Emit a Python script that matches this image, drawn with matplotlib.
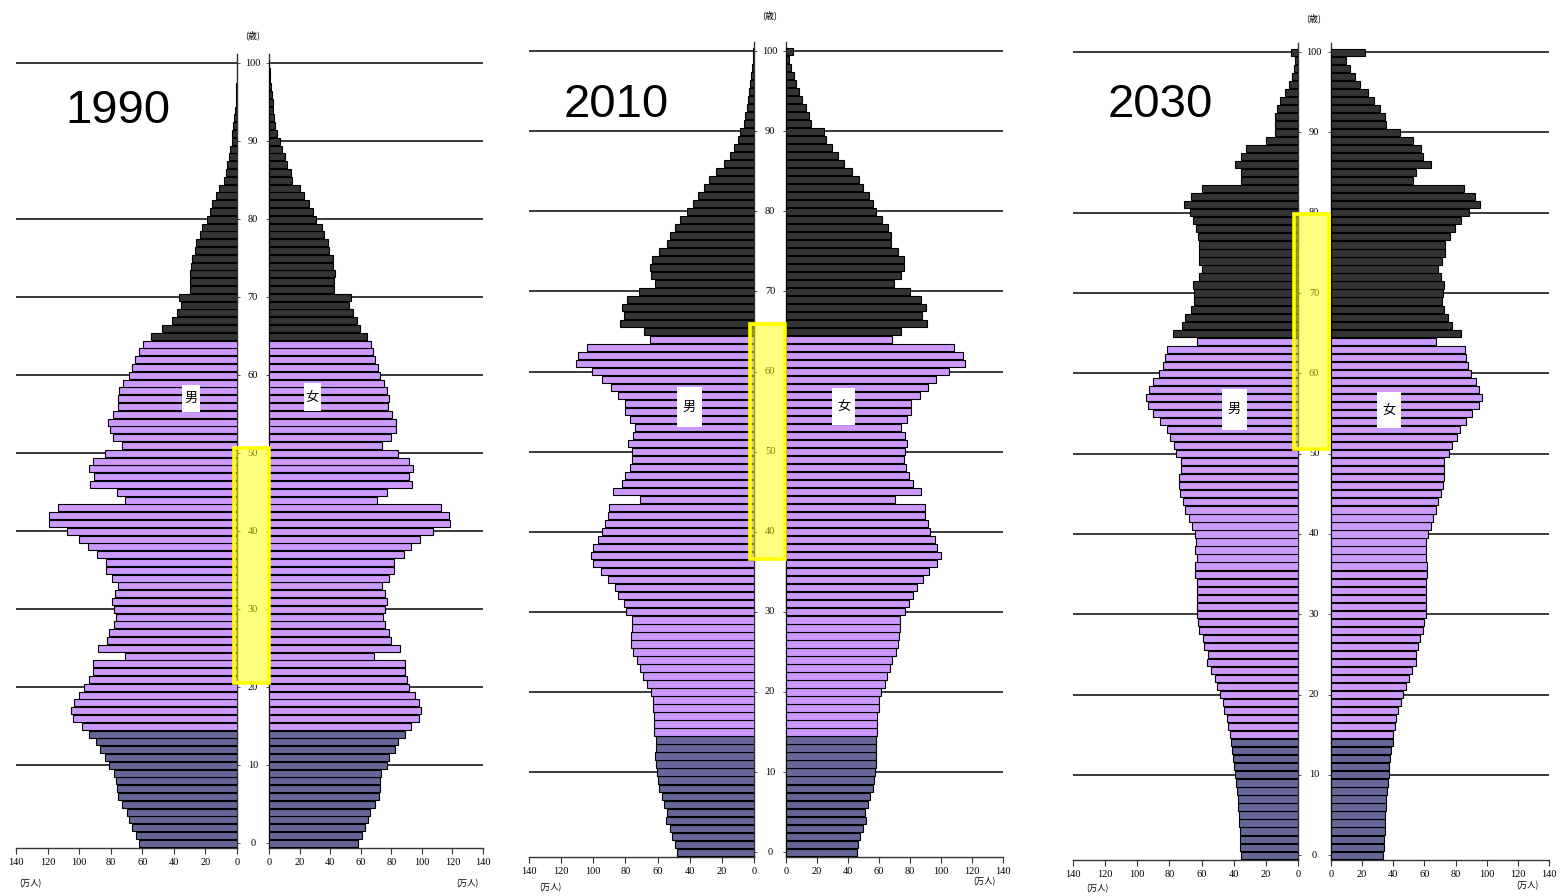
import matplotlib
matplotlib.use('Agg')
import matplotlib.pyplot as plt
from matplotlib.patches import Rectangle
from matplotlib.transforms import blended_transform_factory
import numpy as np

W, H = 1561, 896

# ---------------- data (万人, age 0..100) ----------------
ages = list(range(0, 101))
years = ['1990', '2010', '2030']

male_1990 = [61.8, 63.9, 66.2, 68.4, 70.0, 72.8, 75.7, 76.2, 76.8, 77.8,
             81.2, 83.5, 86.9, 89.2, 93.7, 98.1, 103.8, 104.9, 103.2, 100.0,
             97.0, 93.7, 91.1, 91.1, 70.7, 88.0, 82.3, 81.0, 77.8, 76.8,
             77.8, 79.5, 77.2, 75.5, 79.5, 83.3, 83.3, 88.6, 94.1, 100.4,
             108.0, 119.4, 119.4, 113.7, 71.1, 76.2, 93.0, 90.7, 93.7, 91.1,
             83.5, 72.6, 78.5, 80.6, 81.6, 78.3, 75.1, 75.7, 74.7, 72.2,
             68.4, 66.7, 64.6, 62.0, 59.5, 54.6, 47.7, 41.4, 38.2, 35.4,
             36.5, 30.0, 30.0, 30.0, 28.9, 28.5, 26.8, 25.7, 23.6, 21.9,
             19.2, 17.3, 15.8, 13.3, 11.2, 8.2, 7.0, 6.1, 5.3, 4.4,
             3.4, 3.0, 2.3, 1.7, 1.3, 0.9, 0.6, 0.4, 0.3, 0.2, 0.1]
female_1990 = [58.4, 60.6, 62.5, 64.7, 65.8, 69.5, 71.7, 72.3, 72.8, 73.4,
               76.9, 78.4, 82.4, 84.3, 88.7, 92.8, 98.0, 99.6, 98.0, 95.4,
               91.9, 90.2, 88.7, 88.7, 68.8, 85.4, 79.7, 78.2, 75.6, 74.5,
               75.6, 77.3, 75.6, 73.9, 78.2, 81.5, 81.5, 88.0, 93.0, 98.9,
               107.2, 118.1, 117.6, 112.2, 70.6, 77.1, 93.7, 91.5, 94.1, 91.9,
               84.5, 74.1, 79.9, 82.8, 83.2, 80.2, 77.8, 78.6, 77.3, 75.2,
               72.3, 71.2, 69.5, 68.0, 66.7, 63.9, 59.3, 57.5, 54.9, 52.3,
               53.4, 42.3, 42.5, 42.9, 41.8, 41.6, 39.0, 38.6, 36.2, 34.4,
               30.9, 28.5, 26.4, 22.9, 20.5, 15.3, 14.6, 11.8, 10.2, 8.7,
               7.0, 5.2, 4.1, 3.5, 2.8, 2.4, 1.7, 1.2, 0.8, 0.5, 0.3]

male_2010 = [47.9, 49.2, 50.8, 52.3, 54.6, 54.1, 56.0, 57.3, 58.9, 60.0,
             60.4, 60.8, 61.8, 61.2, 61.2, 62.2, 62.2, 62.0, 62.7, 62.7,
             64.3, 66.8, 68.9, 71.0, 73.0, 75.5, 76.6, 76.6, 75.7, 76.1,
             79.7, 81.1, 84.4, 86.3, 90.7, 95.0, 100.0, 101.2, 100.2, 97.1,
             94.4, 92.5, 91.1, 90.2, 70.7, 87.6, 82.2, 80.1, 77.2, 76.1,
             76.1, 78.2, 75.5, 73.9, 77.2, 80.1, 80.1, 84.6, 89.0, 94.4,
             101.0, 110.6, 109.3, 103.7, 64.5, 68.3, 83.2, 80.9, 82.2, 79.0,
             71.4, 61.4, 64.1, 64.5, 63.3, 59.3, 53.9, 52.5, 49.2, 46.1,
             41.5, 38.2, 34.9, 31.1, 28.0, 23.7, 18.9, 14.9, 12.4, 10.2,
             8.9, 6.2, 5.4, 4.4, 3.5, 2.9, 2.3, 1.9, 1.0, 0.6, 0.6]
female_2010 = [45.8, 46.2, 48.0, 49.9, 51.8, 51.2, 52.9, 54.4, 55.9, 56.8,
               57.6, 57.8, 58.3, 58.3, 58.3, 58.7, 58.7, 58.5, 59.8, 60.2,
               61.3, 63.7, 65.4, 67.3, 68.6, 71.0, 72.5, 73.1, 73.3, 73.8,
               77.0, 79.1, 82.2, 84.7, 88.6, 92.5, 97.6, 100.2, 97.6, 95.9,
               93.1, 91.4, 89.9, 89.9, 70.5, 87.3, 81.7, 79.6, 77.4, 76.3,
               76.6, 78.1, 76.6, 74.4, 78.1, 80.9, 80.9, 86.7, 91.6, 97.0,
               104.9, 115.7, 114.2, 108.4, 68.4, 74.4, 90.8, 87.7, 90.3, 87.1,
               80.0, 69.5, 74.4, 75.9, 76.1, 72.3, 68.0, 68.0, 65.8, 62.2,
               58.3, 56.1, 53.3, 49.9, 46.9, 42.6, 37.2, 33.5, 29.7, 25.8,
               24.3, 16.3, 14.6, 12.7, 10.3, 8.6, 6.7, 4.9, 3.4, 1.7, 4.3]

male_2030 = [35.4, 36.0, 36.2, 36.4, 36.6, 36.9, 37.1, 37.5, 37.9, 38.5,
             39.1, 39.8, 40.4, 41.0, 41.6, 42.2, 43.3, 43.9, 45.8, 46.6,
             48.4, 50.1, 51.8, 54.0, 56.7, 56.3, 58.2, 59.4, 61.5, 62.1,
             63.1, 62.7, 63.1, 63.1, 62.7, 63.8, 64.0, 62.7, 63.8, 63.6,
             64.4, 66.0, 68.1, 70.2, 71.4, 73.7, 74.3, 74.3, 72.7, 73.1,
             76.0, 77.0, 79.7, 81.8, 85.9, 90.1, 93.6, 94.6, 92.5, 90.1,
             86.7, 84.3, 82.6, 81.6, 63.1, 77.6, 72.3, 70.2, 66.7, 64.8,
             64.8, 65.2, 61.7, 59.8, 61.5, 61.7, 61.7, 62.3, 63.6, 65.4,
             67.3, 71.2, 66.7, 60.0, 35.2, 35.2, 39.3, 35.2, 32.5, 20.0,
             14.1, 14.1, 14.1, 13.3, 11.2, 8.3, 5.6, 3.9, 2.7, 1.9, 4.3]
female_2030 = [33.5, 34.0, 34.2, 34.4, 34.6, 34.8, 35.0, 35.5, 35.9, 36.3,
               37.0, 37.4, 38.0, 38.7, 39.5, 40.0, 40.8, 41.7, 43.2, 44.9,
               46.4, 48.3, 50.2, 51.7, 54.5, 54.3, 56.0, 57.3, 59.0, 59.6,
               60.7, 60.7, 61.1, 61.1, 60.9, 61.8, 61.8, 60.9, 61.3, 61.3,
               62.6, 64.3, 65.8, 67.3, 68.8, 70.9, 72.0, 72.6, 72.6, 72.6,
               75.9, 77.6, 80.8, 82.7, 86.5, 90.8, 95.1, 97.2, 95.1, 92.9,
               90.2, 88.2, 86.8, 86.1, 67.3, 83.8, 77.6, 75.4, 72.6, 71.6,
               72.2, 72.6, 70.5, 68.4, 71.6, 73.3, 73.1, 76.5, 79.9, 83.8,
               88.7, 95.5, 92.5, 85.7, 52.4, 54.5, 64.1, 59.2, 58.1, 52.4,
               44.4, 35.3, 34.6, 31.6, 27.8, 23.5, 18.8, 15.4, 12.4, 9.6, 22.0]

x_ticks = [0, 20, 40, 60, 80, 100, 120, 140]
age_ticks = [0, 10, 20, 30, 40, 50, 60, 70, 80, 90, 100]
unit_label = '(万人)'
age_label = '(歳)'
male_label = '男'
female_label = '女'

# ---------------- style / layout ----------------
C_CHILD = '#666699'
C_WORK = '#CC99FF'
C_OLD = '#333333'
GRID = '#3a3a3a'
CJK = ['Noto Sans CJK JP', 'DejaVu Sans']
NUMF = 'Liberation Serif'

fig = plt.figure(figsize=(W / 100, H / 100), dpi=100)


def fx(px):
    return px / W


def fy(py):
    return 1 - py / H


def bar_colors():
    return [C_CHILD if a < 15 else (C_WORK if a < 65 else C_OLD) for a in ages]


YLO, YHI = -0.6, 101.2

panels = [
    dict(year=years[0], male=male_1990, female=female_1990,
         lx=(16, 237), rx=(269, 483), bottom=848, ppy=7.8, mid=253,
         grid_l=[10, 20, 30, 40, 50, 60, 70, 80, 100], grid_r=age_ticks[1:],
         title_xy=(118, 111), age_lab_y=35,
         unit_l=(30, 884), unit_r=(467, 884),
         mbox=(182, 385, 200, 412), fbox=(304, 383, 321, 411),
         yel=(234, 448, 269, 683)),
    dict(year=years[1], male=male_2010, female=female_2010,
         lx=(529, 754), rx=(786, 1003), bottom=857, ppy=8.01, mid=770,
         grid_l=age_ticks[1:], grid_r=age_ticks[1:],
         title_xy=(616, 105), age_lab_y=15,
         unit_l=(550, 888), unit_r=(984, 882),
         mbox=(677, 387, 702, 427), fbox=(832, 388, 855, 425),
         yel=(750, 324, 785, 559)),
    dict(year=years[2], male=male_2030, female=female_2030,
         lx=(1073, 1298), rx=(1331, 1549), bottom=860, ppy=8.03, mid=1314,
         grid_l=[10, 20, 30, 40, 50, 60, 70, 80, 100], grid_r=age_ticks[1:],
         title_xy=(1160, 105), age_lab_y=18,
         unit_l=(1097, 889), unit_r=(1527, 886),
         mbox=(1222, 389, 1247, 430), fbox=(1377, 392, 1401, 428),
         yel=(1294, 214, 1329, 449)),
]

for p in panels:
    bot = p['bottom']
    top = bot - (YHI - YLO) * p['ppy']
    axes = []
    for side in ('L', 'R'):
        x0, x1 = p['lx'] if side == 'L' else p['rx']
        ax = fig.add_axes([fx(x0), fy(bot), (x1 - x0) / W, (bot - top) / H])
        vals = p['male'] if side == 'L' else p['female']
        ax.barh(ages, vals, height=0.9, color=bar_colors(),
                edgecolor='black', linewidth=0.8, zorder=3)
        grid_ages = p['grid_l'] if side == 'L' else p['grid_r']
        for g in grid_ages:
            ax.axhline(g, color=GRID, lw=1.4, zorder=1)
        ax.set_ylim(YLO, YHI)
        ax.set_xlim((140, 0) if side == 'L' else (0, 140))
        ax.set_xticks(x_ticks)
        ax.set_xticklabels([str(t) for t in x_ticks], fontsize=7.5,
                           family=NUMF)
        ax.tick_params(axis='x', direction='out', length=4, width=0.8,
                       pad=3, color='#333333')
        ax.set_yticks(age_ticks)
        ax.set_yticklabels([])
        ax.tick_params(axis='y', direction='out', length=2, width=0.6,
                       color='#333333')
        ax.spines['top'].set_visible(False)
        for sp in ('bottom', 'left', 'right'):
            ax.spines[sp].set_color('#333333')
            ax.spines[sp].set_linewidth(1.0)
        if side == 'L':
            ax.spines['left'].set_visible(False)
            ax.yaxis.tick_right()
        else:
            ax.spines['right'].set_visible(False)
            ax.yaxis.tick_left()
        ax.patch.set_alpha(0)
        axes.append(ax)

    axL = axes[0]
    # age labels in middle column
    tr = blended_transform_factory(fig.transFigure, axL.transData)
    for a in age_ticks:
        fig.text(fx(p['mid']), a, str(a), transform=tr, ha='center',
                 va='center', fontsize=7.5, family=NUMF, zorder=3)
    fig.text(fx(p['mid']), fy(p['age_lab_y']), age_label, ha='center',
             va='center', fontsize=6.5, family=CJK)

    # unit labels
    for (ux, uy) in (p['unit_l'], p['unit_r']):
        fig.text(fx(ux), fy(uy), unit_label, ha='center', va='center',
                 fontsize=6, family=CJK)

    # year title
    fig.text(fx(p['title_xy'][0]), fy(p['title_xy'][1]), p['year'],
             ha='center', va='center', fontsize=34, family='Liberation Sans')

    # 男 / 女 labels in white boxes
    for box, lab in ((p['mbox'], male_label), (p['fbox'], female_label)):
        bx0, by0, bx1, by1 = box
        fig.add_artist(Rectangle((fx(bx0), fy(by1)), (bx1 - bx0) / W,
                                 (by1 - by0) / H, transform=fig.transFigure,
                                 facecolor='white', edgecolor='none',
                                 zorder=4))
        fig.text(fx((bx0 + bx1) / 2), fy((by0 + by1) / 2), lab, ha='center',
                 va='center', fontsize=9.5, family=CJK, zorder=5)

    # yellow highlight rectangle
    yx0, yy0, yx1, yy1 = p['yel']
    fig.add_artist(Rectangle((fx(yx0), fy(yy1)), (yx1 - yx0) / W,
                             (yy1 - yy0) / H, transform=fig.transFigure,
                             facecolor=(1, 1, 0, 0.5), edgecolor='#FFFF00',
                             linewidth=2.6, zorder=6))

fig.savefig('out.png', dpi=100)
